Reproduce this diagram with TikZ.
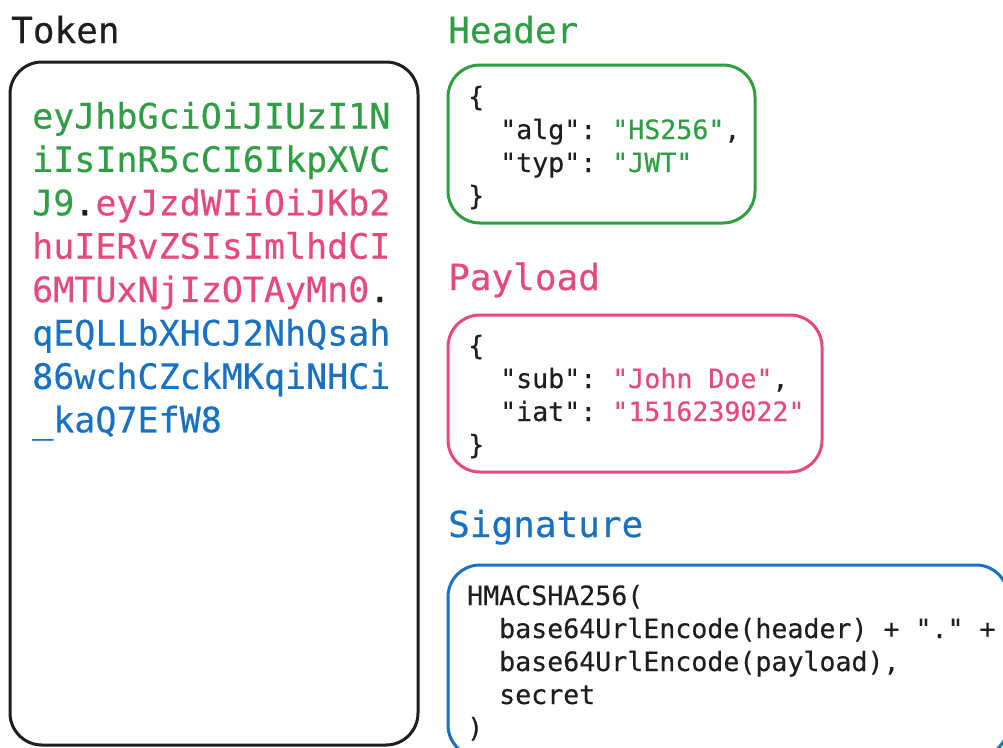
\documentclass[tikz,border=0pt]{standalone}
\usepackage{fontspec}
\setmonofont[FakeBold=0.35]{DejaVu Sans Mono}
\definecolor{ink}{HTML}{1E1E1E}
\definecolor{jgreen}{HTML}{2F9E44}
\definecolor{jpink}{HTML}{E64980}
\definecolor{jblue}{HTML}{1971C2}
\begin{document}
\begin{tikzpicture}[x=1pt,y=-1pt,
  titletext/.style={anchor=base west, inner sep=0pt, font=\ttfamily\fontsize{36}{36}\selectfont},
  toktext/.style={anchor=base west, inner sep=0pt, font=\ttfamily\fontsize{35}{43}\selectfont},
  codetext/.style={anchor=base west, inner sep=0pt, text=ink, font=\ttfamily\fontsize{26.6}{33}\selectfont},
  panel/.style={draw, line width=3pt, rounded corners=32pt, inner sep=0pt, outer sep=0pt, fill=white}]
\useasboundingbox (0,0) rectangle (1003,747);
\clip (0,0) rectangle (1003,747);
\fill[white] (0,0) rectangle (1003,747);

% panels
\node[panel, draw=ink, minimum width=408pt, minimum height=683pt] (tokenbox) at (214,403.5) {};
\node[panel, draw=jgreen, minimum width=307pt, minimum height=158pt] (headerbox) at (601.5,144) {};
\node[panel, draw=jpink, minimum width=374pt, minimum height=157pt] (payloadbox) at (635,393.5) {};
\node[panel, draw=jblue, minimum width=560pt, minimum height=192pt] (sigbox) at (728,661) {};

% titles
\node[titletext, text=ink] (ttoken) at (11,43) {Token};
\node[titletext, text=jgreen] (theader) at (448,43) {Header};
\node[titletext, text=jpink] (tpayload) at (448,290) {Payload};
\node[titletext, text=jblue] (tsig) at (448,537) {Signature};

% token text
\node[toktext, text=jgreen] (k1) at (32,128.5) {eyJhbGciOiJIUzI1N};
\node[toktext, text=jgreen] (k2) at (32,171.9) {iIsInR5cCI6IkpXVC};
\node[toktext] (k3) at (32,215.3) {\textcolor{jgreen}{J9}\textcolor{ink}{.}\textcolor{jpink}{eyJzdWIiOiJKb2}};
\node[toktext, text=jpink] (k4) at (32,258.7) {huIERvZSIsImlhdCI};
\node[toktext] (k5) at (32,302.1) {\textcolor{jpink}{6MTUxNjIzOTAyMn0}\textcolor{ink}{.}};
\node[toktext, text=jblue] (k6) at (32,345.5) {qEQLLbXHCJ2NhQsah};
\node[toktext, text=jblue] (k7) at (32,388.9) {86wchCZckMKqiNHCi};
\node[toktext, text=jblue] (k8) at (32,432.3) {\_kaQ7EfW8};

% header code
\node[codetext] (h1) at (468,106) {\{};
\node[codetext] (h2) at (500,139) {"alg": \textcolor{jgreen}{"HS256"},};
\node[codetext] (h3) at (500,172) {"typ": \textcolor{jgreen}{"JWT"}};
\node[codetext] (h4) at (468,205) {\}};

% payload code
\node[codetext] (p1) at (468,355) {\{};
\node[codetext] (p2) at (500,388) {"sub": \textcolor{jpink}{"John Doe"},};
\node[codetext] (p3) at (500,421) {"iat": \textcolor{jpink}{"1516239022"}};
\node[codetext] (p4) at (468,454) {\}};

% signature code
\node[codetext] (s1) at (467,605) {HMACSHA256(};
\node[codetext] (s2) at (499,638) {base64UrlEncode(header) + "." +};
\node[codetext] (s3) at (499,671) {base64UrlEncode(payload),};
\node[codetext] (s4) at (499,704) {secret};
\node[codetext] (s5) at (467,737) {)};
\end{tikzpicture}
\end{document}
